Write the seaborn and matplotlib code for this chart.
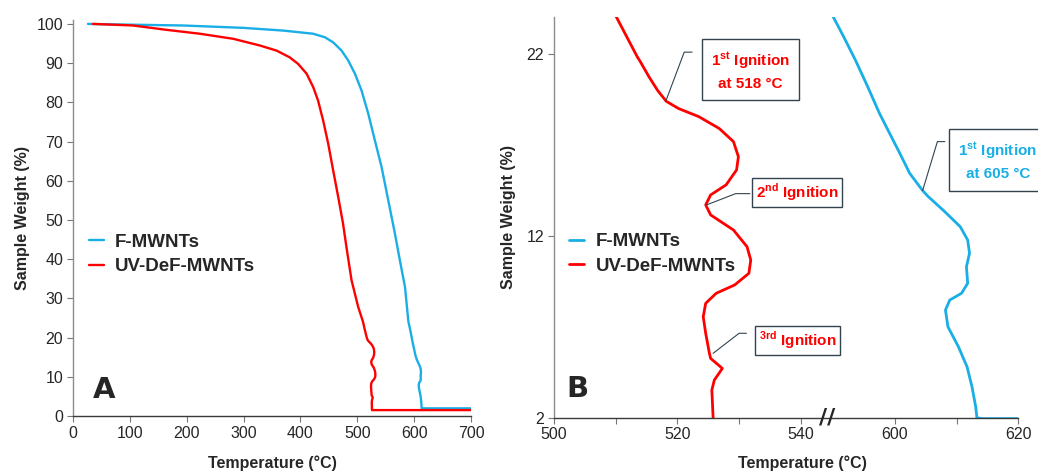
import matplotlib
matplotlib.use("Agg")
import matplotlib.pyplot as plt
import matplotlib.transforms as mtransforms
import seaborn as sns
import pandas as pd
import numpy as np

# TGA curves (temperature in C, weight in %)
uv_T = [35, 105.6, 164, 223, 282, 328.6, 358, 381, 396, 411, 422.5, 431, 440, 449,
        457.7, 466.5, 475, 481, 490, 501.7, 510.1, 511.8, 513.5, 514.0, 515.4, 516.8,
        518.2, 520.2, 523.5, 526.8, 529.1, 529.9, 529.6, 527.9, 525.4, 524.6, 525.4,
        529.1, 531.3, 531.9, 531.6, 529.3, 526.3, 524.6, 524.2, 524.6, 525.2, 525.4,
        527.3, 526.0, 525.6, 525.8, 525.9, 700]
uv_W = [100, 99.6, 98.5, 97.5, 96.2, 94.5, 93.2, 91.5, 89.8, 87.3, 83.9, 80.5, 75.4, 69.4,
        62.6, 55.9, 49.1, 43.1, 34.6, 27.8, 24.05, 22.95, 21.85, 21.58, 20.75, 20.0,
        19.4, 19.0, 18.55, 17.9, 17.18, 16.35, 15.62, 14.8, 14.25, 13.7, 13.15,
        12.32, 11.4, 10.67, 9.94, 9.3, 8.84, 8.29, 7.55, 6.64, 5.54, 5.26,
        4.71, 4.07, 3.52, 2.0, 1.5, 1.5]

f_T = [26.4, 105.6, 193.7, 299, 370, 422.5, 443, 457.7, 472.4, 484, 496, 507.6, 519.4,
       531, 542.8, 554.6, 566.3, 575, 584, 590.0, 591.7, 593.6, 595.6, 597.5, 599.7,
       600.8, 602.4, 604.5, 605.4, 607.8, 610.6, 611.8, 612.1, 611.6, 611.8, 610.8,
       608.9, 608.2, 608.6, 610.3, 611.7, 612.5, 613.1, 613.3, 614.0, 700]
f_W = [100, 99.8, 99.6, 99.0, 98.3, 97.5, 96.6, 95.3, 93.2, 90.7, 87.3, 83, 77.1,
       70.3, 63.5, 55, 46.5, 39.7, 32.9, 24.05, 22.95, 21.67, 20.2, 18.74, 17.27,
       16.54, 15.44, 14.49, 14.16, 13.42, 12.5, 11.77, 11.04, 10.3, 9.39, 8.84,
       8.47, 7.92, 7.0, 5.9, 4.8, 3.7, 2.6, 2.0, 1.95, 1.95]

samples = ['F-MWNTs', 'UV-DeF-MWNTs']
colors = {'F-MWNTs': '#1aaee6', 'UV-DeF-MWNTs': '#ff0000'}

xticks_A = [0, 100, 200, 300, 400, 500, 600, 700]
yticks_A = [0, 10, 20, 30, 40, 50, 60, 70, 80, 90, 100]
xticks_B = [500, 520, 540, 600, 620]
xminor_B = [510, 530, 610]
yticks_B = [2, 12, 22]

df = pd.concat([
    pd.DataFrame({'T': f_T, 'W': f_W, 'sample': samples[0]}),
    pd.DataFrame({'T': uv_T, 'W': uv_W, 'sample': samples[1]}),
], ignore_index=True)

sns.set_style('white')
plt.rcParams['font.family'] = ['Liberation Sans', 'DejaVu Sans']
plt.rcParams['mathtext.fontset'] = 'custom'
plt.rcParams['mathtext.rm'] = 'Liberation Sans'
plt.rcParams['mathtext.bf'] = 'Liberation Sans:bold'

# broken axis for panel B: 544.2 -> 589 squeezed to nothing
brk_d = [-1e4, 544.2, 589.0, 1e4]
brk_s = [-1e4, 544.2, 544.25, 1e4 - 44.75]
def fwd(x):
    return np.interp(x, brk_d, brk_s)
def inv(x):
    return np.interp(x, brk_s, brk_d)

fig = plt.figure(figsize=(10.38, 4.74), dpi=100)
axA = fig.add_axes([0.0703, 0.1224, 0.3834, 0.8354])
axB = fig.add_axes([0.5336, 0.1188, 0.4474, 0.846])

for ax, lw in [(axA, 1.7), (axB, 2.0)]:
    sns.lineplot(data=df, x='T', y='W', hue='sample', palette=colors, sort=False,
                 estimator=None, lw=lw, ax=ax)
    h, l = ax.get_legend_handles_labels()
    ax.legend(h, l, frameon=False, loc='center left', handlelength=0.8,
              handletextpad=0.6, labelspacing=0.4, borderpad=0, borderaxespad=0,
              prop={'weight': 'bold', 'size': 13.5})
    for s in ['top', 'right']:
        ax.spines[s].set_visible(False)
    ax.spines['left'].set_color('#8c8c8c')
    ax.spines['bottom'].set_color('#3a3a3a')
    ax.spines['left'].set_linewidth(1.0)
    ax.spines['bottom'].set_linewidth(1.0)
    ax.tick_params(axis='both', which='both', direction='out', length=4, width=0.8,
                   color='#777777', labelsize=11.5, pad=3,
                   bottom=True, left=True)
    ax.set_xlabel('Temperature (°C)', fontsize=11.5, fontweight='bold')
    ax.set_ylabel('Sample Weight (%)', fontsize=11.5, fontweight='bold')

# panel A
axA.set_xlim(0, 700)
axA.set_ylim(0, 101)
axA.set_xticks(xticks_A)
axA.set_yticks(yticks_A)
axA.legend_.set_bbox_to_anchor((0.04, 0.408))
axA.xaxis.set_label_coords(0.5, -0.10)
axA.yaxis.set_label_coords(-0.108, 0.5)
axA.text(0.05, 0.03, 'A', transform=axA.transAxes, fontsize=21, fontweight='bold',
         family='DejaVu Sans', ha='left', va='bottom')

# panel B
axB.set_xscale('function', functions=(fwd, inv))
axB.set_xlim(500, 620)
axB.set_ylim(2, 24.05)
axB.set_xticks(xticks_B)
axB.set_xticks(xminor_B, minor=True)
axB.set_yticks(yticks_B)
axB.legend_.set_bbox_to_anchor((0.033, 0.408))
axB.xaxis.set_label_coords(0.536, -0.095)
axB.yaxis.set_label_coords(-0.082, 0.5)
axB.text(0.026, 0.037, 'B', transform=axB.transAxes, fontsize=21, fontweight='bold',
         family='DejaVu Sans', ha='left', va='bottom')
trans = mtransforms.blended_transform_factory(axB.transData, axB.transAxes)
axB.text(544.22, 0.0, '//', transform=trans, fontsize=16, fontweight='bold',
         family='DejaVu Sans', ha='center', va='center')

edge = '#33444f'
def leader(ax, xy, end, angle):
    ax.annotate('', xy=xy, xytext=end, xycoords='data', textcoords='data',
                arrowprops=dict(arrowstyle='-', color=edge, lw=0.8, shrinkA=0, shrinkB=0,
                                connectionstyle=f'angle,angleA=0,angleB={angle},rad=0'))

def label_box(ax, x, y, txt, color, pad):
    ax.text(x, y, txt, color=color, fontsize=11, fontweight='bold', ha='center',
            va='center', ma='center', linespacing=1.45,
            bbox=dict(boxstyle=f'square,pad={pad}', fc='white', ec=edge, lw=1.0))

red = colors['UV-DeF-MWNTs']
blue = colors['F-MWNTs']
leader(axB, (518.15, 19.42), (522.4, 22.1), 69.4)
label_box(axB, 531.9, 21.06, '1$^{\\mathbf{st}}$ Ignition\nat 518 °C', red, 0.6)
leader(axB, (524.74, 13.70), (531.76, 14.32), 21.2)
label_box(axB, 539.45, 14.38, '2$^{\\mathbf{nd}}$ Ignition', red, 0.25)
leader(axB, (525.8, 5.54), (531.2, 6.64), 37.6)
label_box(axB, 539.45, 6.25, '$^{\\mathbf{3rd}}$ Ignition', red, 0.25)
leader(axB, (604.5, 14.49), (608.1, 17.18), 73.2)
label_box(axB, 616.7, 16.1, '1$^{\\mathbf{st}}$ Ignition\nat 605 °C', blue, 0.6)

fig.savefig('out.png', dpi=100)
